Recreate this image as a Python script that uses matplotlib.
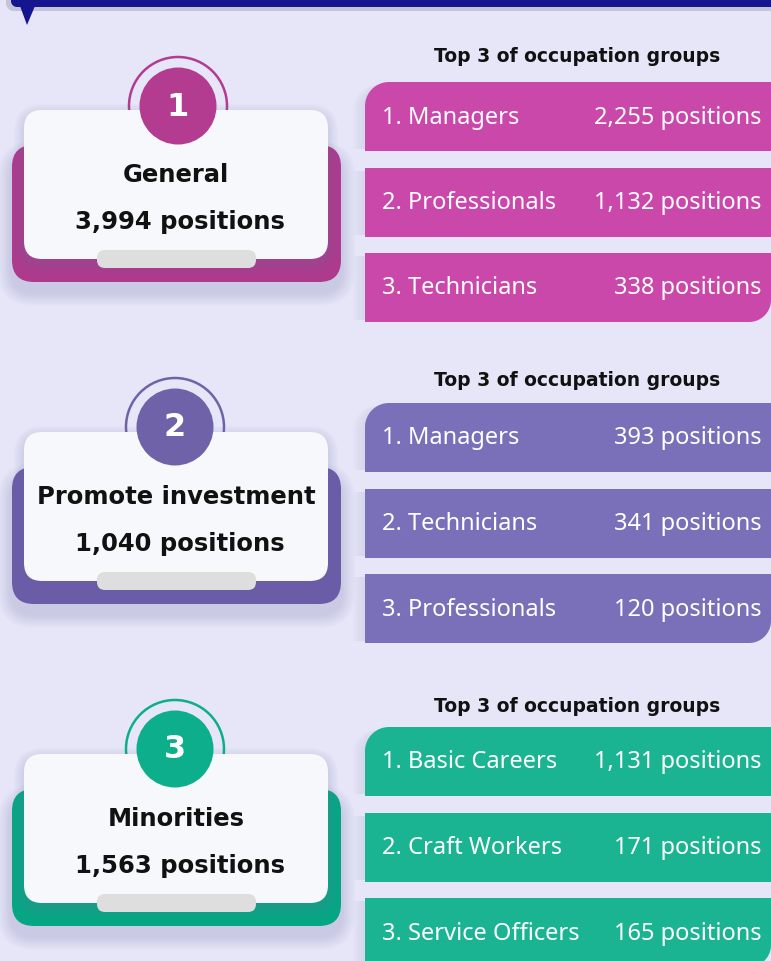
import matplotlib
matplotlib.use("Agg")
import matplotlib.pyplot as plt
import numpy as np
from matplotlib.patches import FancyBboxPatch, Circle, Polygon

# data
groups = ["General", "Promote investment", "Minorities"]
group_totals = [3994, 1040, 1563]
badge_numbers = ["1", "2", "3"]
occupations = [
    ["Managers", "Professionals", "Technicians"],
    ["Managers", "Technicians", "Professionals"],
    ["Basic Careers", "Craft Workers", "Service Officers"],
]
occupation_counts = [
    [2255, 1132, 338],
    [393, 341, 120],
    [1131, 171, 165],
]
header_text = "Top 3 of occupation groups"

# styles
bg = "#e6e6f8"
back_colors = ["#ad3a8d", "#6a5ca6", "#06a684"]
badge_colors = ["#b33b90", "#6f62a9", "#0cae8b"]
row_colors = ["#cb48ab", "#7a70b9", "#1bb492"]
card_white = "#f7f8fb"
pill_gray = "#dedede"

# layout (pixels)
card_top = [110, 432, 754]
rows_top = [82, 403, 727]
title_y = [57, 381, 707]
badge_x = [178, 175, 175]


def rpath(x0, y0, x1, y1, radii, n=20):
    """polygon for a rect with per-corner radii (tl, tr, br, bl), y axis downward"""
    tl, tr, br, bl = radii
    pts = []
    corners = [
        (x0 + tl, y0 + tl, tl, 180, 270),
        (x1 - tr, y0 + tr, tr, 270, 360),
        (x1 - br, y1 - br, br, 0, 90),
        (x0 + bl, y1 - bl, bl, 90, 180),
    ]
    for cx, cy, r, a0, a1 in corners:
        t = np.radians(np.linspace(a0, a1, n))
        for a in t:
            pts.append((cx + r * np.cos(a), cy + r * np.sin(a)))
    return np.array(pts)


def rbox(ax, x0, y0, x1, y1, r, color, z, alpha=1.0):
    p = FancyBboxPatch((x0, y0), x1 - x0, y1 - y0,
                       boxstyle=f"round,pad=0,rounding_size={r}",
                       fc=color, ec="none", zorder=z, alpha=alpha)
    ax.add_patch(p)


def soft_shadow(ax, x0, y0, x1, y1, r, z, dy=6, steps=10, spread=14, a=0.022):
    for i in range(steps):
        g = spread * (1 - i / steps)
        rbox(ax, x0 - g, y0 - g + dy, x1 + g, y1 + g + dy, r + g,
             "#7a7ab0", z, alpha=a)


fig = plt.figure(figsize=(7.71, 9.61), dpi=100)
fig.patch.set_facecolor(bg)
ax = fig.add_axes([0, 0, 1, 1])
ax.set_xlim(0, 771)
ax.set_ylim(961, 0)
ax.axis("off")
ax.set_facecolor(bg)

# top banner
ax.add_patch(Polygon(rpath(6, -20, 800, 11, (0, 0, 0, 8)), closed=True,
                     fc="#c4c4d8", ec="none", zorder=1))
ax.add_patch(Polygon(rpath(11, -20, 800, 7, (0, 0, 0, 6)), closed=True,
                     fc="#15158f", ec="none", zorder=2))
ax.add_patch(Polygon([(20, 6), (35, 6), (27, 25)], closed=True,
                     fc="#15158f", ec="none", zorder=2))

for i in range(3):
    ct = card_top[i]
    cb = ct + 149
    bx = badge_x[i]
    by = ct - 4 if i == 0 else ct - 5
    # back colored card
    soft_shadow(ax, 12, ct + 35, 341, ct + 172, 22, 2, dy=10)
    rbox(ax, 12, ct + 35, 341, ct + 172, 22, back_colors[i], 3)
    # ring behind white card
    ax.add_patch(Circle((bx, by), 49, fc="none", ec=badge_colors[i], lw=1.8, zorder=3))
    # white card
    soft_shadow(ax, 24, ct, 328, cb, 18, 4, dy=4, steps=8, spread=10)
    rbox(ax, 24, ct, 328, cb, 18, card_white, 5)
    # gray pill
    rbox(ax, 97, cb - 9, 256, cb + 9, 8, pill_gray, 6)
    # badge
    ax.add_patch(Circle((bx, by), 38.5, fc=badge_colors[i], ec="none", zorder=7))
    ax.text(bx, by + 1, badge_numbers[i], color="white", fontsize=23,
            fontweight="bold", ha="center", va="center", zorder=8,
            family="DejaVu Sans")
    # card text
    ax.text(176, ct + 65, groups[i], fontsize=17.5, fontweight="bold",
            ha="center", va="center", color="#111111", zorder=8, family="DejaVu Sans")
    ax.text(180, ct + 112, f"{group_totals[i]:,} positions", fontsize=17.5,
            fontweight="bold", ha="center", va="center", color="#111111",
            zorder=8, family="DejaVu Sans")

    # right side header
    ax.text(577, title_y[i], header_text, fontsize=13.5, fontweight="bold",
            ha="center", va="center", color="#111111", zorder=8, family="DejaVu Sans")
    # rows
    for j in range(3):
        y0 = rows_top[i] + j * 85.5
        y1 = y0 + 69
        radii = [0, 0, 0, 0]
        if j == 0:
            radii[0] = 24
        if j == 2:
            radii[2] = 22
        x1 = 771 if j == 2 else 800
        # faint shadow to the left of the bar
        for k in range(6):
            ax.add_patch(Polygon(rpath(365 - 2 * (k + 1), y0 + 3, x1, y1 - 2, radii),
                                 closed=True, fc="#b8b8d0", ec="none",
                                 alpha=0.05, zorder=3))
        ax.add_patch(Polygon(rpath(365, y0, x1, y1, radii), closed=True,
                             fc=row_colors[i], ec="none", zorder=4))
        yc = (y0 + y1) / 2 + 1
        ax.text(382, yc, f"{j + 1}. {occupations[i][j]}", fontsize=17,
                color="white", ha="left", va="center", zorder=8, family="Noto Sans")
        ax.text(762, yc, f"{occupation_counts[i][j]:,} positions", fontsize=17,
                color="white", ha="right", va="center", zorder=8, family="Noto Sans")

fig.savefig("out.png", dpi=100, facecolor=bg)
